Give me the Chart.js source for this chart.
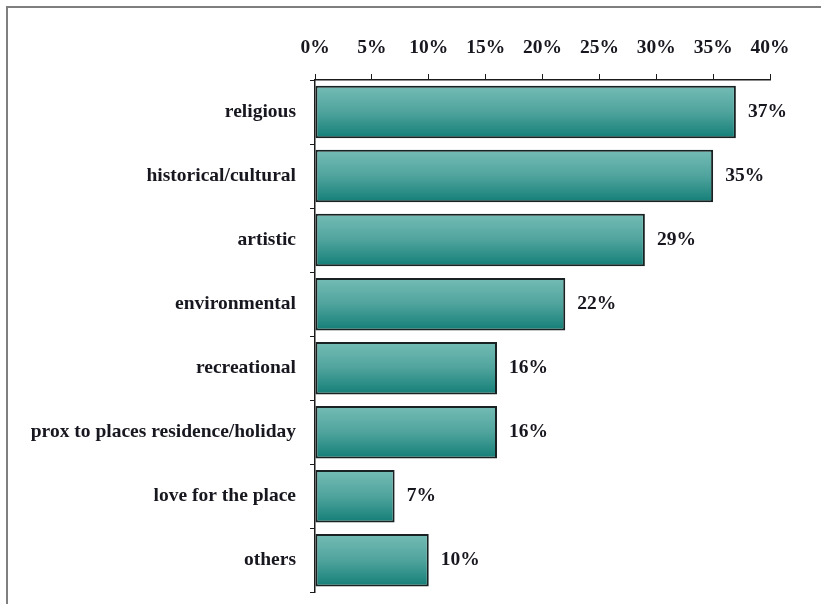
<!DOCTYPE html>
<html>
<head>
<meta charset="utf-8">
<script src="https://cdn.jsdelivr.net/npm/chart.js@4/dist/chart.umd.min.js"></script>
<style>
  html, body { margin: 0; padding: 0; background: #fff; overflow: hidden; }
  #wrap { position: relative; width: 821px; height: 604px; overflow: hidden; }
  #frame {
    position: absolute; left: 6px; top: 6px; width: 900px; height: 700px;
    border-left: 2px solid #7f7f7f; border-top: 2px solid #7f7f7f;
  }
  canvas { position: absolute; left: 0; top: 0; }
</style>
</head>
<body>
<div id="wrap">
  <div id="frame"></div>
  <canvas id="motivesChart" width="821" height="618"></canvas>
</div>
<script>
// Motives, share of answers in percent
const motives = [
  'religious',
  'historical/cultural',
  'artistic',
  'environmental',
  'recreational',
  'prox to places residence/holiday',
  'love for the place',
  'others'
];
const shares = [37, 35, 29, 22, 16, 16, 7, 10];
const axisTicks = [0, 5, 10, 15, 20, 25, 30, 35, 40];

const textColor = '#17171f';
const fontFamily = '"Liberation Serif", "Times New Roman", serif';
const serifBold = { family: fontFamily, size: 19.5, weight: 'bold' };

// vertical teal gradient, lighter at the top of each bar
function barFill(context) {
  const chart = context.chart;
  const yScale = chart.scales.y;
  if (!chart.chartArea || !yScale) return '#4aa29b';
  const yc = yScale.getPixelForValue(context.dataIndex);
  const band = yScale.getPixelForValue(1) - yScale.getPixelForValue(0);
  const h = band * 0.82 / 2;
  const g = chart.ctx.createLinearGradient(0, yc - h, 0, yc + h);
  g.addColorStop(0, '#74bcb5');
  g.addColorStop(0.5, '#4fa49d');
  g.addColorStop(1, '#137e77');
  return g;
}

// value labels right of each bar
const valueLabels = {
  id: 'valueLabels',
  afterDatasetsDraw(chart) {
    const ctx = chart.ctx;
    const meta = chart.getDatasetMeta(0);
    ctx.save();
    ctx.font = 'bold 19.5px ' + fontFamily;
    ctx.fillStyle = textColor;
    ctx.textAlign = 'left';
    ctx.textBaseline = 'middle';
    meta.data.forEach((bar, i) => {
      ctx.fillText(shares[i] + '%', bar.x + 12, bar.y);
    });
    ctx.restore();
  }
};

new Chart(document.getElementById('motivesChart'), {
  type: 'bar',
  data: {
    labels: motives,
    datasets: [{
      data: shares,
      backgroundColor: barFill,
      borderColor: '#182222',
      borderWidth: 2,
      borderSkipped: false,
      categoryPercentage: 1,
      barPercentage: 0.82
    }]
  },
  options: {
    indexAxis: 'y',
    responsive: false,
    animation: false,
    layout: { padding: { left: 0, right: 51, top: 0, bottom: 0 } },
    plugins: {
      legend: { display: false },
      tooltip: { enabled: false }
    },
    scales: {
      x: {
        position: 'top',
        min: 0,
        max: 40,
        afterBuildTicks: scale => { scale.ticks = axisTicks.map(v => ({ value: v })); },
        afterFit: scale => { scale.height = 80; },
        ticks: {
          color: textColor,
          font: serifBold,
          padding: 14,
          callback: v => v + '%'
        },
        grid: {
          drawOnChartArea: false,
          tickLength: 6,
          color: '#1b1b1b'
        },
        border: { color: '#1b1b1b', width: 1.5 }
      },
      y: {
        afterFit: scale => { scale.width = 315; },
        ticks: {
          color: textColor,
          font: serifBold,
          padding: 14
        },
        grid: {
          drawOnChartArea: false,
          offset: true,
          tickLength: 5,
          color: '#1b1b1b'
        },
        border: { color: '#1b1b1b', width: 1.5 }
      }
    }
  },
  plugins: [valueLabels]
});
</script>
</body>
</html>
